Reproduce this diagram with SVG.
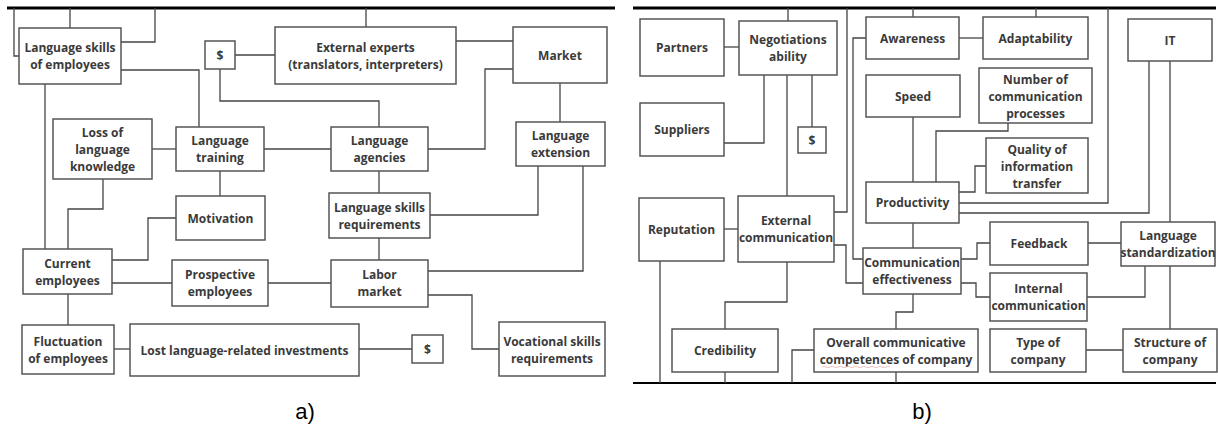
<svg xmlns="http://www.w3.org/2000/svg" width="1218" height="426" viewBox="0 0 1218 426">
  <style>
    .box { fill: #ffffff; stroke: #555555; stroke-width: 1.5; }
    .wire { fill: none; stroke: #444444; stroke-width: 1.3; }
    .rule { fill: none; stroke: #000000; }
    .t { font-family: "Open Sans", "Noto Sans", sans-serif; font-weight: 700; font-size: 12px; fill: #3a3a3a; text-anchor: middle; }
    .cap { font-family: "Liberation Sans", Arial, sans-serif; font-size: 22px; fill: #000000; text-anchor: middle; }
  </style>
  <rect x="0" y="0" width="1218" height="426" fill="#ffffff"/>

  <!-- panel frames -->
  <g id="frames">
    <path class="rule" d="M7,8 H615" stroke-width="3"/>
    <path class="rule" d="M633,8 H1216" stroke-width="3"/>
    <path class="rule" d="M633,383 H1216" stroke-width="2"/>
  </g>

  <!-- connectors, panel a -->
  <g id="connectors-a">
    <path class="wire" d="M14,8 V56 H19"/>
    <path class="wire" d="M70,8 V28"/>
    <path class="wire" d="M155,8 V42 H121"/>
    <path class="wire" d="M366,8 V27"/>
    <path class="wire" d="M235,55 H275"/>
    <path class="wire" d="M220,69 V101 H379 V127"/>
    <path class="wire" d="M121,70 H199 V127"/>
    <path class="wire" d="M45,84 V249"/>
    <path class="wire" d="M152,149 H176"/>
    <path class="wire" d="M264,149 H331"/>
    <path class="wire" d="M220,171 V196"/>
    <path class="wire" d="M103,179 V209 H68 V249"/>
    <path class="wire" d="M176,218 H148 V260 H112"/>
    <path class="wire" d="M112,283 H172"/>
    <path class="wire" d="M268,283 H331"/>
    <path class="wire" d="M68,294 V325"/>
    <path class="wire" d="M114,349 H130"/>
    <path class="wire" d="M359,349 H412"/>
    <path class="wire" d="M379,171 V193"/>
    <path class="wire" d="M379,238 V260"/>
    <path class="wire" d="M430,215 H538 V166"/>
    <path class="wire" d="M583,166 V271 H428"/>
    <path class="wire" d="M456,41 H513"/>
    <path class="wire" d="M513,69 H485 V149 H428"/>
    <path class="wire" d="M560,83 V122"/>
    <path class="wire" d="M428,295 H472 V349 H499"/>
  </g>

  <!-- connectors, panel b -->
  <g id="connectors-b">
    <path class="wire" d="M788,8 V21"/>
    <path class="wire" d="M724,47 H739"/>
    <path class="wire" d="M724,143 H764 V75"/>
    <path class="wire" d="M787,75 V196"/>
    <path class="wire" d="M812,75 V127"/>
    <path class="wire" d="M847,8 V212 H834"/>
    <path class="wire" d="M866,38 H853 V259 H863"/>
    <path class="wire" d="M913,8 V17"/>
    <path class="wire" d="M959,38 H983"/>
    <path class="wire" d="M1036,8 V17"/>
    <path class="wire" d="M913,117 V182"/>
    <path class="wire" d="M1008,123 V131 H936 V182"/>
    <path class="wire" d="M986,166 H975 V192 H959"/>
    <path class="wire" d="M1108,8 V203 H959"/>
    <path class="wire" d="M1149,61 V213 H959"/>
    <path class="wire" d="M1170,61 V222"/>
    <path class="wire" d="M1088,243 H1121"/>
    <path class="wire" d="M1087,297 H1145 V266"/>
    <path class="wire" d="M1170,266 V329"/>
    <path class="wire" d="M1086,350 H1123"/>
    <path class="wire" d="M913,223 V248"/>
    <path class="wire" d="M961,259 H977 V243 H990"/>
    <path class="wire" d="M961,283 H976 V297 H990"/>
    <path class="wire" d="M724,229 H738"/>
    <path class="wire" d="M660,261 V383"/>
    <path class="wire" d="M834,245 H846 V283 H863"/>
    <path class="wire" d="M787,262 V302 H725 V329"/>
    <path class="wire" d="M725,372 V383"/>
    <path class="wire" d="M913,294 V312 H896 V329"/>
    <path class="wire" d="M814,350 H792 V383"/>
    <path class="wire" d="M896,372 V383"/>
  </g>

  <!-- nodes, panel a -->
  <g id="lang-skills-employees"><rect class="box" x="19" y="28" width="102" height="56"/><text class="t" x="70" y="52">Language skills</text><text class="t" x="70" y="69">of employees</text></g>
  <g id="cost-a1"><rect class="box" x="205" y="41" width="30" height="28"/><text class="t" x="220" y="59.5">$</text></g>
  <g id="external-experts"><rect class="box" x="275" y="27" width="181" height="57"/><text class="t" x="365.5" y="52">External experts</text><text class="t" x="365.5" y="69">(translators, interpreters)</text></g>
  <g id="market"><rect class="box" x="513" y="27" width="94" height="56"/><text class="t" x="560" y="59.5">Market</text></g>
  <g id="loss-knowledge"><rect class="box" x="53" y="119" width="99" height="60"/><text class="t" x="102.5" y="136.5">Loss of</text><text class="t" x="102.5" y="153.5">language</text><text class="t" x="102.5" y="170.5">knowledge</text></g>
  <g id="lang-training"><rect class="box" x="176" y="127" width="88" height="44"/><text class="t" x="220" y="145">Language</text><text class="t" x="220" y="162">training</text></g>
  <g id="lang-agencies"><rect class="box" x="331" y="127" width="97" height="44"/><text class="t" x="379.5" y="145">Language</text><text class="t" x="379.5" y="162">agencies</text></g>
  <g id="lang-extension"><rect class="box" x="516" y="122" width="89" height="44"/><text class="t" x="560.5" y="140">Language</text><text class="t" x="560.5" y="157">extension</text></g>
  <g id="motivation"><rect class="box" x="176" y="196" width="89" height="44"/><text class="t" x="220.5" y="222.5">Motivation</text></g>
  <g id="lang-skills-req"><rect class="box" x="329" y="193" width="101" height="45"/><text class="t" x="379.5" y="211.5">Language skills</text><text class="t" x="379.5" y="228.5">requirements</text></g>
  <g id="current-employees"><rect class="box" x="23" y="249" width="89" height="45"/><text class="t" x="67.5" y="267.5">Current</text><text class="t" x="67.5" y="284.5">employees</text></g>
  <g id="prospective-employees"><rect class="box" x="172" y="260" width="96" height="46"/><text class="t" x="220" y="279">Prospective</text><text class="t" x="220" y="296">employees</text></g>
  <g id="labor-market"><rect class="box" x="331" y="260" width="97" height="47"/><text class="t" x="379.5" y="279">Labor</text><text class="t" x="379.5" y="296">market</text></g>
  <g id="fluctuation"><rect class="box" x="22" y="325" width="92" height="49"/><text class="t" x="68" y="345.5">Fluctuation</text><text class="t" x="68" y="362.5">of employees</text></g>
  <g id="lost-investments"><rect class="box" x="130" y="324" width="229" height="52"/><text class="t" x="244.5" y="354.5">Lost language-related investments</text></g>
  <g id="cost-a2"><rect class="box" x="412" y="335" width="31" height="28"/><text class="t" x="427.5" y="353.5">$</text></g>
  <g id="vocational-req"><rect class="box" x="499" y="322" width="106" height="54"/><text class="t" x="552" y="345.5">Vocational skills</text><text class="t" x="552" y="362.5">requirements</text></g>

  <!-- nodes, panel b -->
  <g id="partners"><rect class="box" x="640" y="19" width="84" height="57"/><text class="t" x="682" y="52">Partners</text></g>
  <g id="negotiations"><rect class="box" x="739" y="21" width="98" height="54"/><text class="t" x="788" y="43.5">Negotiations</text><text class="t" x="788" y="60.5">ability</text></g>
  <g id="suppliers"><rect class="box" x="640" y="103" width="84" height="53"/><text class="t" x="682" y="134">Suppliers</text></g>
  <g id="cost-b"><rect class="box" x="798" y="127" width="28" height="26"/><text class="t" x="812" y="144.5">$</text></g>
  <g id="awareness"><rect class="box" x="866" y="17" width="93" height="42"/><text class="t" x="912.5" y="42.5">Awareness</text></g>
  <g id="adaptability"><rect class="box" x="983" y="17" width="105" height="42"/><text class="t" x="1035.5" y="42.5">Adaptability</text></g>
  <g id="speed"><rect class="box" x="866" y="75" width="94" height="42"/><text class="t" x="913" y="100.5">Speed</text></g>
  <g id="comm-processes"><rect class="box" x="979" y="68" width="113" height="55"/><text class="t" x="1035.5" y="83.5">Number of</text><text class="t" x="1035.5" y="100.5">communication</text><text class="t" x="1035.5" y="117.5">processes</text></g>
  <g id="info-quality"><rect class="box" x="986" y="138" width="102" height="55"/><text class="t" x="1037" y="153.5">Quality of</text><text class="t" x="1037" y="170.5">information</text><text class="t" x="1037" y="187.5">transfer</text></g>
  <g id="it"><rect class="box" x="1128" y="19" width="84" height="42"/><text class="t" x="1170" y="44.5">IT</text></g>
  <g id="productivity"><rect class="box" x="866" y="182" width="93" height="41"/><text class="t" x="912.5" y="207">Productivity</text></g>
  <g id="reputation"><rect class="box" x="639" y="198" width="85" height="63"/><text class="t" x="681.5" y="234">Reputation</text></g>
  <g id="external-comm"><rect class="box" x="738" y="196" width="96" height="66"/><text class="t" x="786" y="225">External</text><text class="t" x="786" y="242">communication</text></g>
  <g id="comm-effectiveness"><rect class="box" x="863" y="248" width="98" height="46"/><text class="t" x="912" y="267">Communication</text><text class="t" x="912" y="284">effectiveness</text></g>
  <g id="feedback"><rect class="box" x="990" y="222" width="98" height="43"/><text class="t" x="1039" y="248">Feedback</text></g>
  <g id="lang-standardization"><rect class="box" x="1121" y="222" width="94" height="44"/><text class="t" x="1168" y="240">Language</text><text class="t" x="1168" y="257">standardization</text></g>
  <g id="internal-comm"><rect class="box" x="990" y="273" width="97" height="48"/><text class="t" x="1038.5" y="293">Internal</text><text class="t" x="1038.5" y="310">communication</text></g>
  <g id="credibility"><rect class="box" x="672" y="329" width="106" height="43"/><text class="t" x="725" y="355">Credibility</text></g>
  <g id="overall-competences"><rect class="box" x="814" y="329" width="164" height="43"/><text class="t" x="896" y="346.5">Overall communicative</text><text class="t" x="896" y="363.5">competences of company</text><path d="M822,367 q2,-1.5 4,0 t4,0 t4,0 t4,0 t4,0 t4,0 t4,0 t4,0 t4,0 t4,0 t4,0 t4,0 t4,0 t4,0 t4,0 t4,0 t4,0" fill="none" stroke="#e7b4b4" stroke-width="0.8"/></g>
  <g id="company-type"><rect class="box" x="990" y="329" width="96" height="43"/><text class="t" x="1038" y="346.5">Type of</text><text class="t" x="1038" y="363.5">company</text></g>
  <g id="company-structure"><rect class="box" x="1123" y="329" width="94" height="43"/><text class="t" x="1170" y="346.5">Structure of</text><text class="t" x="1170" y="363.5">company</text></g>

  <!-- panel captions -->
  <g id="captions">
    <text class="cap" x="305" y="419">a)</text>
    <text class="cap" x="922" y="419">b)</text>
  </g>
</svg>
